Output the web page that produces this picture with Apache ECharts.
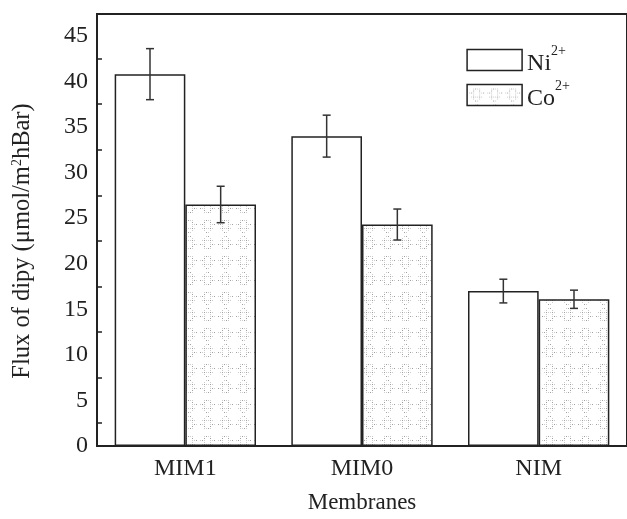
<!DOCTYPE html>
<html>
<head>
<meta charset="utf-8">
<script src="https://cdn.jsdelivr.net/npm/echarts@6/dist/echarts.min.js"></script>
<style>
  html, body { margin: 0; padding: 0; background: #fff; }
  #chart { width: 627px; height: 519px; }
</style>
</head>
<body>
<div id="chart"></div>
<script>
const categories = ['MIM1', 'MIM0', 'NIM']
const niValues = [40.8, 34.0, 17.0]
const niErrors = [2.8, 2.3, 1.3]
const coValues = [26.5, 24.3, 16.1]
const coErrors = [2.0, 1.7, 1.0]
const yTicks = [0, 5, 10, 15, 20, 25, 30, 35, 40, 45]

const font = 'Liberation Serif'
const ink = '#222'

// light stippled texture for the Co2+ bars
function makePattern() {
  const n = 36
  const c = document.createElement('canvas')
  c.width = n
  c.height = n
  const ctx = c.getContext('2d')
  ctx.fillStyle = '#fff'
  ctx.fillRect(0, 0, n, n)
  for (let y = 0; y < n; y += 2) {
    for (let x = 0; x < n; x += 2) {
      const dx = (x % 18) - 9
      const dy = (y % 18) - 9
      const d = Math.abs(dx) + Math.abs(dy)
      if (d > 3 && d < 10 && (y % 4 !== 2 || x % 6 === 0)) {
        ctx.fillStyle = ((x + y) % 6 === 0) ? '#a0a0a0' : '#cccccc'
        ctx.fillRect(x, y, 1, 1)
      }
    }
  }
  return c
}
const pattern = { image: makePattern(), repeat: 'repeat' }

const chart = echarts.init(document.getElementById('chart'))

function errorSeries(values, errors, side) {
  return {
    type: 'custom',
    silent: true,
    z: 5,
    data: values.map((v, i) => [i, v, errors[i]]),
    renderItem(params, api) {
      const band = api.size([1, 0])[0]
      const x = api.coord([api.value(0), 0])[0] + side * band * 0.2
      const top = api.coord([api.value(0), api.value(1) + api.value(2)])[1]
      const bot = api.coord([api.value(0), api.value(1) - api.value(2)])[1]
      const cap = 4
      const style = { stroke: '#333', lineWidth: 1.5 }
      return {
        type: 'group',
        children: [
          { type: 'line', shape: { x1: x, y1: top, x2: x, y2: bot }, style },
          { type: 'line', shape: { x1: x - cap, y1: top, x2: x + cap, y2: top }, style },
          { type: 'line', shape: { x1: x - cap, y1: bot, x2: x + cap, y2: bot }, style }
        ]
      }
    }
  }
}

const option = {
  animation: false,
  backgroundColor: '#fff',
  textStyle: { fontFamily: font, color: ink },
  grid: {
    left: 97,
    top: 14,
    width: 534,
    bottom: 71,
    show: true,
    borderColor: ink,
    borderWidth: 2,
    backgroundColor: 'transparent'
  },
  legend: {
    right: 52,
    top: 39,
    orient: 'vertical',
    icon: 'rect',
    itemWidth: 55,
    itemHeight: 21,
    itemGap: 3,
    data: ['Ni', 'Co'],
    formatter: name => '{b|' + name + '}{s|2+}',
    itemStyle: { borderColor: ink, borderWidth: 1.5 },
    textStyle: {
      fontFamily: font,
      color: ink,
      rich: {
        b: { fontFamily: font, fontSize: 24, color: ink, padding: [8, 0, 0, 0] },
        s: { fontFamily: font, fontSize: 14, color: ink, verticalAlign: 'top', padding: [0, 0, 10, 0] }
      }
    }
  },
  xAxis: [
    {
      type: 'category',
      data: categories,
      name: 'Membranes',
      nameLocation: 'middle',
      nameGap: 45,
      nameTextStyle: { fontFamily: font, fontSize: 23, color: ink },
      axisLine: { lineStyle: { color: ink, width: 2 } },
      axisTick: { inside: true, length: 5, lineStyle: { color: ink, width: 1.5 } },
      axisLabel: { fontFamily: font, fontSize: 24, color: ink, margin: 11 },
      splitLine: { show: false }
    },
    {
      type: 'category',
      data: categories,
      position: 'bottom',
      axisLine: { show: false },
      axisTick: { inside: true, length: 8, alignWithLabel: true, lineStyle: { color: ink, width: 1.5 } },
      axisLabel: { show: false },
      splitLine: { show: false }
    }
  ],
  yAxis: {
    type: 'value',
    min: 0,
    max: 47.4,
    interval: 5,
    name: 'Flux of dipy (μmol/m{s|2}hBar)',
    nameLocation: 'middle',
    nameGap: 62,
    nameTextStyle: {
      fontFamily: font,
      fontSize: 24.5,
      color: ink,
      padding: [0, 22, 0, 0],
      rich: {
        s: { fontFamily: font, fontSize: 14, color: ink, verticalAlign: 'top', padding: [0, 0, 9, 0] }
      }
    },
    axisLine: { show: true, lineStyle: { color: ink, width: 2 } },
    axisTick: { inside: true, length: 8, lineStyle: { color: ink, width: 1.5 } },
    minorTick: { show: true, splitNumber: 2, length: 5, lineStyle: { color: ink, width: 1.5 } },
    axisLabel: {
      fontFamily: font,
      fontSize: 24,
      color: ink,
      margin: 9,
      showMaxLabel: false,
      formatter: v => (yTicks.indexOf(v) >= 0 ? String(v) : '')
    },
    splitLine: { show: false }
  },
  series: [
    {
      name: 'Ni',
      type: 'bar',
      data: niValues,
      barGap: '0%',
      barCategoryGap: '20%',
      itemStyle: { color: '#fff', borderColor: ink, borderWidth: 1.5 }
    },
    {
      name: 'Co',
      type: 'bar',
      data: coValues,
      barGap: '0%',
      barCategoryGap: '20%',
      itemStyle: { color: pattern, borderColor: ink, borderWidth: 1.5 }
    },
    errorSeries(niValues, niErrors, -1),
    errorSeries(coValues, coErrors, 1)
  ]
}
chart.setOption(option)
</script>
</body>
</html>
